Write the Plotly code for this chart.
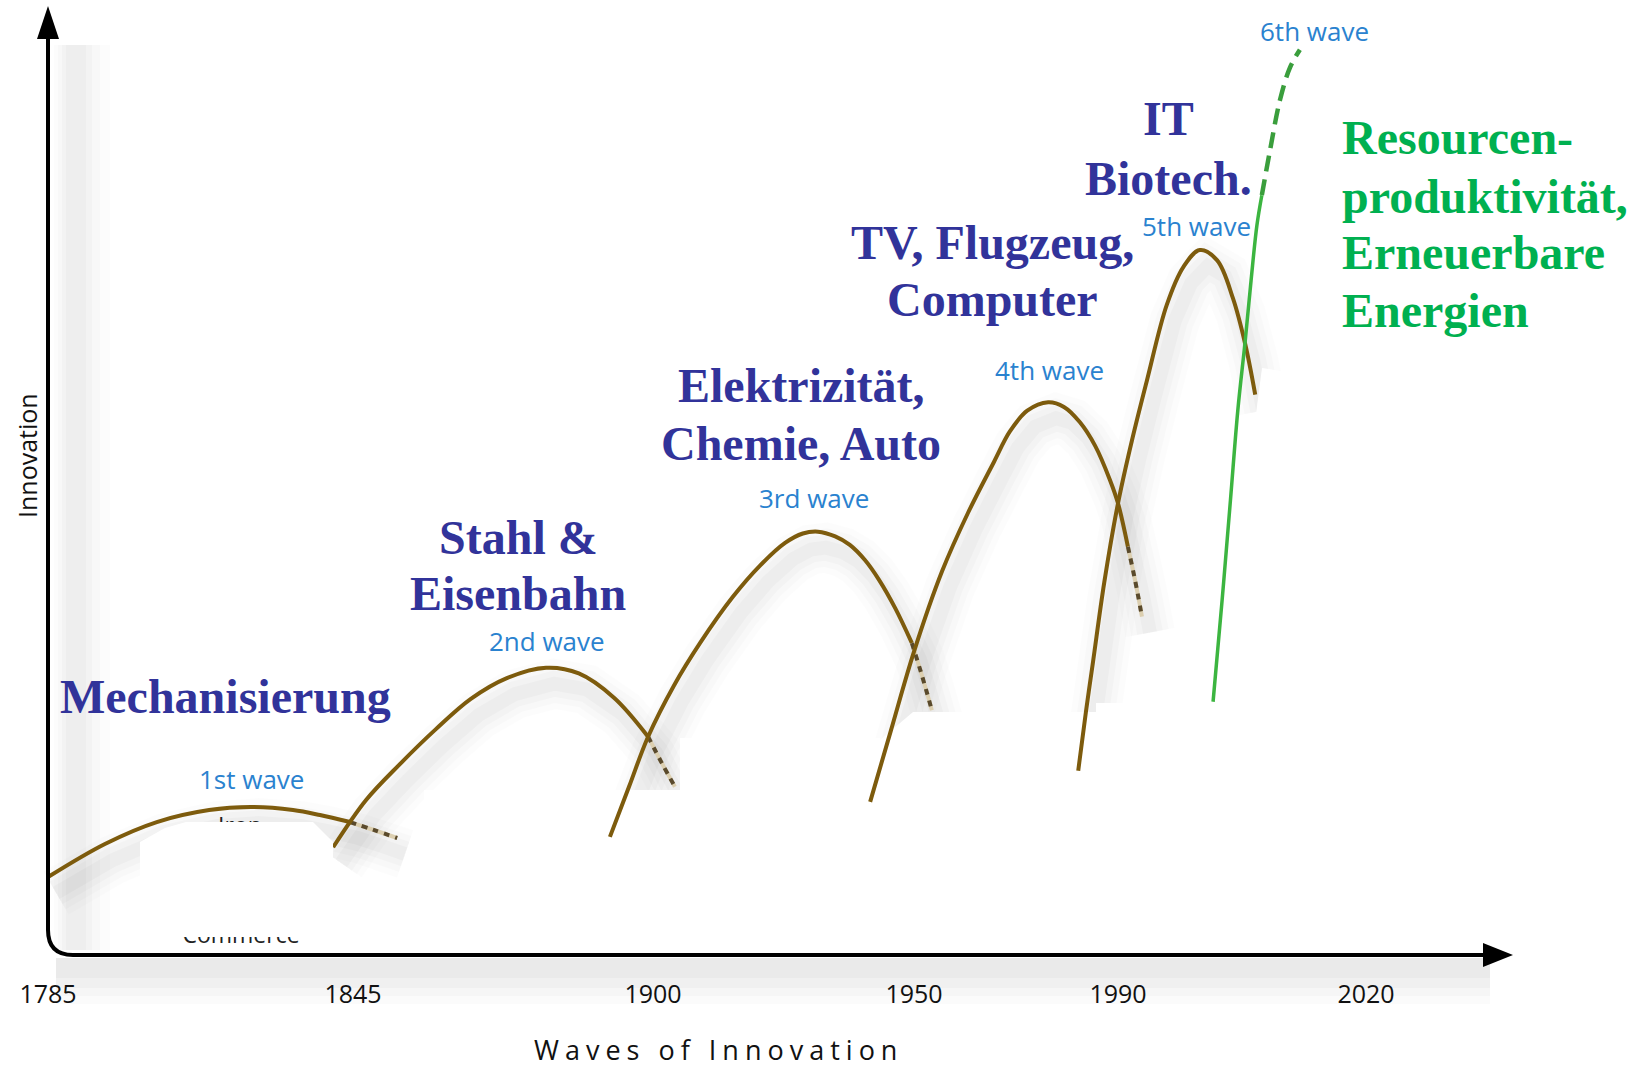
import numpy as np
import plotly.graph_objects as go

# ---------------- data ----------------
TICK_YEARS = [1785, 1845, 1900, 1950, 1990, 2020]
TICK_LABELS = ["1785", "1845", "1900", "1950", "1990", "2020"]

WAVE_LABELS = ["1st wave", "2nd wave", "3rd wave", "4th wave", "5th wave", "6th wave"]
TOPIC_LINES = [
    ["Mechanisierung"],
    ["Stahl &", "Eisenbahn"],
    ["Elektrizität,", "Chemie, Auto"],
    ["TV, Flugzeug,", "Computer"],
    ["IT", "Biotech."],
]
GREEN_LINES = ["Resourcen-", "produktivität,", "Erneuerbare", "Energien"]

# wave curves: year, innovation level (solid part) and dashed tails
wave1_years = [1785.0, 1796.2, 1806.4, 1816.7, 1824.9, 1833.2, 1838.5, 1844.4]
wave1_vals = [8.25, 11.75, 14.07, 15.34, 15.66, 15.34, 14.81, 14.07]
wave1_tail_years = [1844.4, 1848.8, 1853.1]
wave1_tail_vals = [14.07, 13.23, 12.38]

wave2_years = [1841.1, 1847.4, 1853.6, 1860.2, 1866.6, 1873.2, 1880.4, 1886.4, 1892.9, 1899.1]
wave2_vals = [11.4, 16.4, 20.2, 23.9, 27.1, 29.3, 30.4, 29.8, 27.2, 23.1]
wave2_tail_years = [1899.1, 1901.7, 1904.2]
wave2_tail_vals = [23.1, 20.3, 17.8]

wave3_years = [1892.1, 1895.6, 1899.1, 1904.0, 1909.0, 1915.3, 1920.5, 1925.3, 1928.7,
               1931.6, 1934.9, 1937.7, 1940.6, 1943.3, 1946.4, 1949.6]
wave3_vals = [12.5, 17.8, 23.1, 28.5, 33.0, 37.9, 41.2, 43.6, 44.6, 44.8, 44.3, 43.4,
              41.8, 39.7, 36.7, 33.0]
wave3_tail_years = [1949.6, 1951.6, 1953.5]
wave3_tail_vals = [33.0, 29.5, 25.9]

wave4_years = [1941.6, 1945.6, 1950.0, 1955.5, 1960.6, 1965.7, 1968.8, 1972.2, 1976.3,
               1979.4, 1982.5, 1985.5, 1988.4, 1990.0, 1991.2]
wave4_vals = [16.2, 23.8, 32.1, 40.6, 46.8, 52.2, 55.4, 57.6, 58.5, 58.0, 56.4, 53.9,
              50.3, 47.8, 43.2]
wave4_tail_years = [1991.2, 1992.1, 1992.9]
wave4_tail_vals = [43.2, 39.5, 35.8]

wave5_years = [1982.2, 1983.7, 1985.1, 1987.3, 1990.0, 1991.7, 1993.5, 1995.9, 1997.9,
               1999.9, 2002.0, 2003.9, 2005.4, 2006.6]
wave5_vals = [19.5, 25.7, 31.0, 39.4, 47.8, 54.5, 60.8, 68.8, 72.8, 74.6, 73.5, 69.5, 64.6, 59.3]

wave6_years = [2001.5, 2002.6, 2003.6, 2004.5, 2005.4, 2006.1, 2006.8, 2007.4]
wave6_vals = [26.8, 37.6, 48.1, 57.7, 65.1, 71.4, 77.2, 80.4]
wave6_tail_years = [2007.4, 2008.4, 2009.6, 2010.8, 2012.0]
wave6_tail_vals = [80.4, 85.2, 90.5, 93.9, 95.8]

# ---------------- layout constants ----------------
W, H = 1641, 1068
TICK_PX = [48, 353, 653, 914, 1118, 1366]   # screen position of each tick year
AXIS_PX_Y = 955
UNIT_PX = 9.45

BROWN = "#7d5b0d"
TAIL_LIGHT = "#dccfb0"
TAIL_DARK = "#5a4a2c"
GREEN = "#3cb540"
NAVY = "#31339a"
TEXT_GREEN = "#00b050"
WAVE_BLUE = "#2a82cf"


def year_to_px(years):
    yrs = np.asarray(years, dtype=float)
    px = np.interp(yrs, TICK_YEARS, TICK_PX)
    slope = (TICK_PX[-1] - TICK_PX[-2]) / (TICK_YEARS[-1] - TICK_YEARS[-2])
    return np.where(yrs > TICK_YEARS[-1], TICK_PX[-1] + (yrs - TICK_YEARS[-1]) * slope, px)


def v_of(ypx):
    return (AXIS_PX_Y - ypx) / UNIT_PX


fig = go.Figure()

solid_waves = [
    (wave1_years, wave1_vals, wave1_tail_years, wave1_tail_vals),
    (wave2_years, wave2_vals, wave2_tail_years, wave2_tail_vals),
    (wave3_years, wave3_vals, wave3_tail_years, wave3_tail_vals),
    (wave4_years, wave4_vals, wave4_tail_years, wave4_tail_vals),
    (wave5_years, wave5_vals, None, None),
]

shapes = []


def rect(x0, y0, x1, y1, color, layer="below"):
    return dict(type="rect", xref="x", yref="y", x0=x0, x1=x1, y0=v_of(y1), y1=v_of(y0),
                fillcolor=color, line=dict(width=0), layer=layer)


def poly(pts, color, layer="below", closed=True):
    d = "M " + " L ".join(f"{x:.1f},{v_of(y):.4f}" for x, y in pts)
    if closed:
        d += " Z"
    return dict(type="path", xref="x", yref="y", path=d, fillcolor=color,
                line=dict(width=0), layer=layer)


# axis shadows (soft)
for x0, x1, a in [(54, 110, 0.012), (58, 100, 0.015), (62, 92, 0.018), (66, 86, 0.02)]:
    shapes.append(rect(x0, 45, x1, 950, f"rgba(0,0,0,{a})"))
for y0, y1, a in [(958, 1004, 0.014), (958, 996, 0.018), (958, 988, 0.022), (958, 978, 0.025)]:
    shapes.append(rect(56, y0, 1490, y1, f"rgba(0,0,0,{a})"))

# soft shadows beneath the brown waves
SH_DX, SH_DY = 8, 16
for yrs, vals, tyrs, tvals in solid_waves:
    ay = list(yrs) + (list(tyrs[1:]) if tyrs else [])
    av = list(vals) + (list(tvals[1:]) if tvals else [])
    xs = year_to_px(ay) + SH_DX
    vs = np.asarray(av) - SH_DY / UNIT_PX
    d = "M " + " L ".join(f"{x:.1f},{v:.4f}" for x, v in zip(xs, vs))
    for w, a in [(50, 0.012), (38, 0.016), (26, 0.02), (14, 0.024)]:
        shapes.append(dict(type="path", xref="x", yref="y", path=d,
                           line=dict(color=f"rgba(0,0,0,{a})", width=w),
                           fillcolor="rgba(0,0,0,0)", layer="below"))

# white patches (erased labels in the original picture)
shapes.append(poly([(424, 790), (680, 790), (680, 948), (424, 948)], "white"))
shapes.append(poly([(680, 738), (880, 738), (880, 948), (680, 948)], "white"))
shapes.append(poly([(880, 740), (913, 712), (1096, 712), (1096, 948), (880, 948)], "white"))
shapes.append(poly([(1096, 703), (1470, 703), (1470, 948), (1096, 948)], "white"))
shapes.append(poly([(1262, 368), (1503, 407), (1470, 760), (1218, 703)], "white"))
shapes.append(poly([(140, 842), (165, 828), (186, 822), (313, 822), (333, 842), (333, 937),
                    (140, 937)], "white", layer="above"))

# axes with arrows and rounded corner
axis_path = (f"M 48,{v_of(36):.4f} L 48,{v_of(930):.4f} Q 48,{v_of(955):.4f} 73,{v_of(955):.4f} "
             f"L 1488,{v_of(955):.4f}")
shapes.append(dict(type="path", xref="x", yref="y", path=axis_path,
                   line=dict(color="black", width=4), fillcolor="rgba(0,0,0,0)", layer="above"))
shapes.append(poly([(48, 6), (37, 39), (59, 39)], "black", layer="above"))
shapes.append(poly([(1513, 955), (1483, 943), (1483, 967)], "black", layer="above"))

# covered label fragments (partly hidden by the white patch)
fig.add_trace(go.Scatter(x=[240, 241], y=[v_of(828), v_of(937)], mode="text",
                         text=["Iron", "Commerce"],
                         textfont=dict(family="Open Sans", size=23, color="#222"),
                         hoverinfo="skip", showlegend=False))

# brown waves
for yrs, vals, tyrs, tvals in solid_waves:
    fig.add_trace(go.Scatter(x=year_to_px(yrs), y=vals, mode="lines",
                             line=dict(color=BROWN, width=4, shape="spline", smoothing=1.0),
                             hoverinfo="skip", showlegend=False))
    if tyrs:
        fig.add_trace(go.Scatter(x=year_to_px(tyrs), y=tvals, mode="lines",
                                 line=dict(color=TAIL_LIGHT, width=4, shape="spline"),
                                 hoverinfo="skip", showlegend=False))
        fig.add_trace(go.Scatter(x=year_to_px(tyrs), y=tvals, mode="lines",
                                 line=dict(color=TAIL_DARK, width=4, shape="spline", dash="6px,6px"),
                                 hoverinfo="skip", showlegend=False))

# green 6th wave
fig.add_trace(go.Scatter(x=year_to_px(wave6_years), y=wave6_vals, mode="lines",
                         line=dict(color=GREEN, width=3.5, shape="spline", smoothing=1.0),
                         hoverinfo="skip", showlegend=False))
fig.add_trace(go.Scatter(x=year_to_px(wave6_tail_years), y=wave6_tail_vals, mode="lines",
                         line=dict(color="#3a9e3c", width=4.5, shape="spline", dash="16px,8px"),
                         hoverinfo="skip", showlegend=False))

annotations = []

WAVE_LABEL_POS = [(251, 779), (547, 641), (814, 498), (1049, 370), (1196, 226), (1314, 31)]
for lab, (x, y) in zip(WAVE_LABELS, WAVE_LABEL_POS):
    annotations.append(dict(x=x, y=v_of(y), xref="x", yref="y", text=lab, showarrow=False,
                            xanchor="center", yanchor="middle",
                            font=dict(family="Open Sans", size=26, color=WAVE_BLUE)))

TOPIC_POS = [[(225, 696)], [(518, 537), (518, 593)], [(801, 385), (801, 443)],
             [(992, 242), (992, 299)], [(1168, 118), (1168, 178)]]
for lines, poss in zip(TOPIC_LINES, TOPIC_POS):
    for t, (x, y) in zip(lines, poss):
        annotations.append(dict(x=x, y=v_of(y), xref="x", yref="y", text=t, showarrow=False,
                                xanchor="center", yanchor="middle",
                                font=dict(family="Liberation Serif", size=48, color=NAVY,
                                          weight="bold")))

GREEN_X = 1340
GREEN_YS = [137, 196, 252, 310]
for t, y in zip(GREEN_LINES, GREEN_YS):
    annotations.append(dict(x=GREEN_X, y=v_of(y), xref="x", yref="y", text=t, showarrow=False,
                            xanchor="left", yanchor="middle",
                            font=dict(family="Liberation Serif", size=48, color=TEXT_GREEN,
                                      weight="bold")))

annotations.append(dict(x=27, y=v_of(456), xref="x", yref="y", text="Innovation",
                        showarrow=False, textangle=-90, xanchor="center", yanchor="middle",
                        font=dict(family="Open Sans", size=25, color="#111")))
annotations.append(dict(x=718, y=v_of(1049), xref="x", yref="y",
                        text='<span style="letter-spacing:6px">Waves of Innovation</span>',
                        showarrow=False, xanchor="center", yanchor="middle",
                        font=dict(family="Open Sans", size=27, color="#111")))

fig.update_layout(
    width=W, height=H,
    margin=dict(l=0, r=0, t=0, b=0),
    paper_bgcolor="white", plot_bgcolor="white",
    showlegend=False,
    shapes=shapes,
    annotations=annotations,
    xaxis=dict(range=[0, W], showgrid=False, zeroline=False, showline=False,
               tickmode="array", tickvals=list(year_to_px(TICK_YEARS)), ticktext=TICK_LABELS,
               ticks="", tickfont=dict(family="Open Sans", size=25, color="#111"),
               anchor="free", position=(H - AXIS_PX_Y) / H, ticklabelstandoff=22,
               automargin=False, fixedrange=True),
    yaxis=dict(range=[v_of(H), v_of(0)], visible=False, fixedrange=True),
)

fig.write_html("out.html", config={"displayModeBar": False},
               post_script="document.body.style.margin='0';document.body.style.overflow='hidden';")
